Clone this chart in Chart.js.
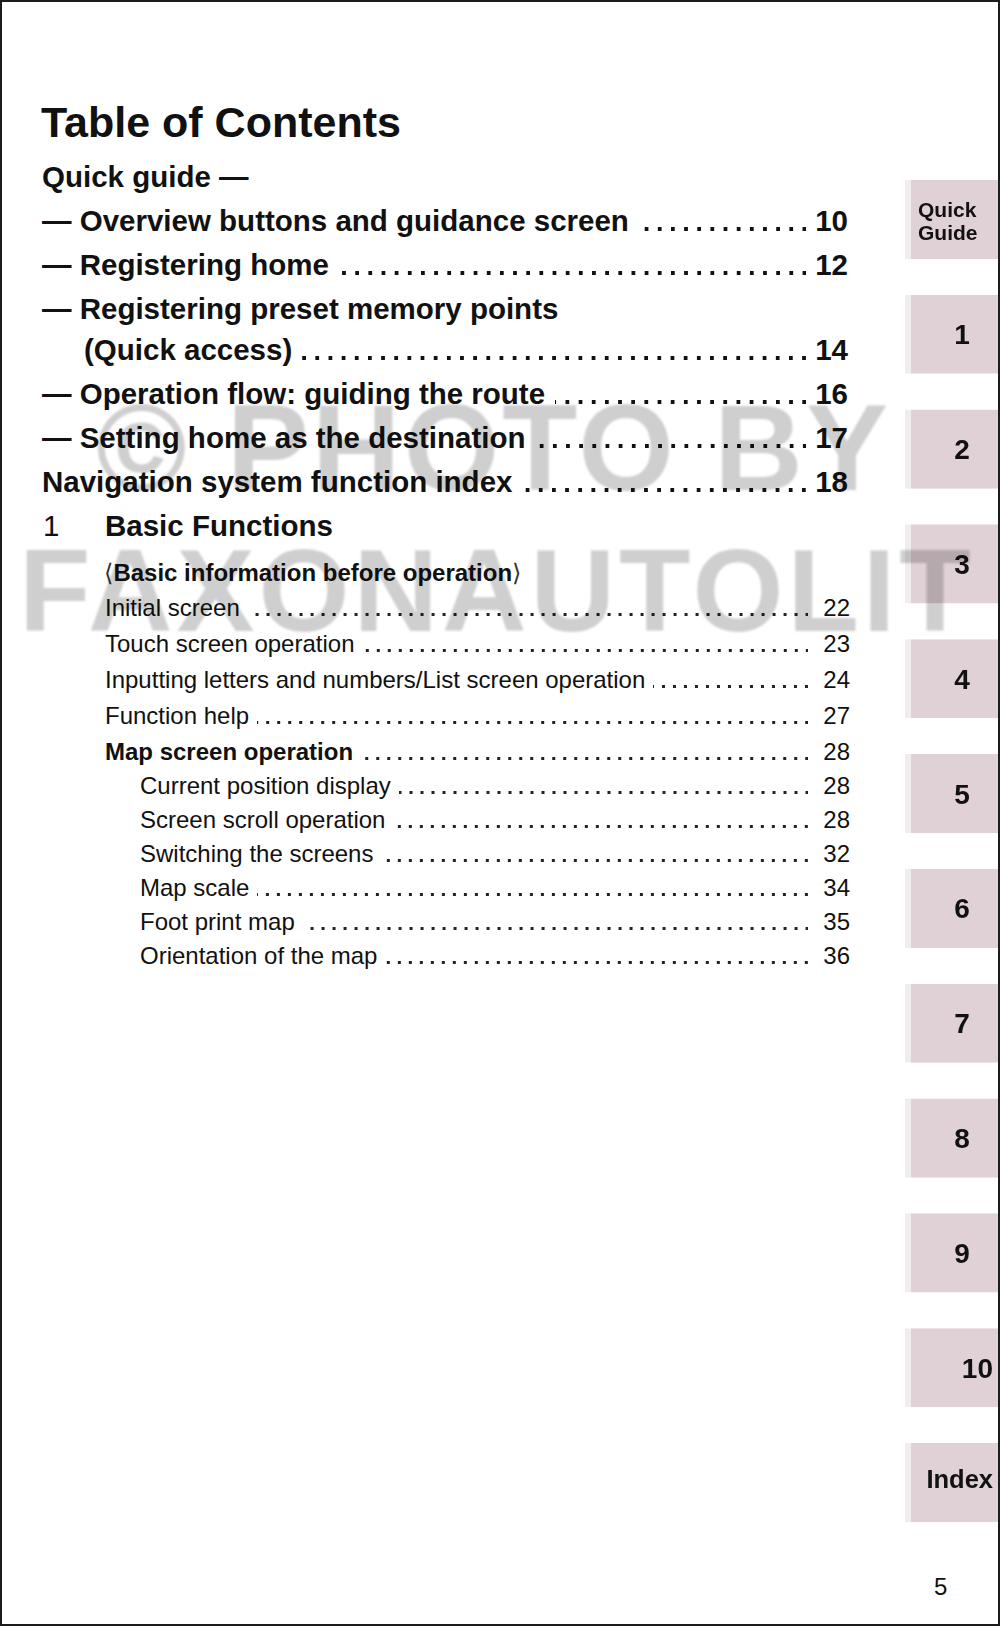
<!DOCTYPE html>
<html>
<head>
<meta charset="utf-8">
<script src="https://cdn.jsdelivr.net/npm/chart.js@4.4.1/dist/chart.umd.min.js"></script>
<style>
  html, body { margin: 0; padding: 0; background: #fff; }
  #page {
    position: relative; width: 1000px; height: 1626px; overflow: hidden;
    background: #fff; color: #111;
    font-family: "Liberation Sans", Arial, Helvetica, sans-serif;
  }
  #frame {
    position: absolute; left: 0; top: 0; width: 1000px; height: 1626px;
    box-sizing: border-box; border: 2px solid #1c1c1c; z-index: 10; pointer-events: none;
  }
  .row { position: absolute; display: flex; align-items: baseline; line-height: 1; white-space: nowrap; }
  .lead { flex: 1; align-self: stretch; }
  .num { text-align: right; }
  .br { font-family: "DejaVu Sans", sans-serif; font-weight: normal; color: #333; }
  #tabs { position: absolute; left: 905px; top: 162px; }
  .wm {
    position: absolute; line-height: 1; font-weight: bold; color: #cfcfcf;
    mix-blend-mode: multiply; filter: blur(1.2px); z-index: 8; pointer-events: none; white-space: nowrap;
  }
</style>
</head>
<body>
<div id="page">
  <div id="toc"></div>
  <canvas id="tabs" width="95" height="1378"></canvas>
  <div class="wm" style="left:96px; top:386px; font-size:123px; letter-spacing:3px;">© PHOTO BY</div>
  <div class="wm" style="left:19px; top:532px; font-size:117px; letter-spacing:4px;">FAXONAUTOLIT</div>
  <div id="frame"></div>
</div>
<script>
// === 1. DATA ===
const pageTitle = 'Table of Contents';
const tocLevels = ['part', 'big', 'big', 'big', 'cont', 'big', 'big', 'big', 'chap', 'group',
                   'item', 'item', 'item', 'item', 'itemb', 'sub', 'sub', 'sub', 'sub', 'sub', 'sub'];
const tocTitles = [
    'Quick guide —',
    '— Overview buttons and guidance screen',
    '— Registering home',
    '— Registering preset memory points',
    '(Quick access)',
    '— Operation flow: guiding the route',
    '— Setting home as the destination',
    'Navigation system function index',
    'Basic Functions',
    'Basic information before operation',
    'Initial screen',
    'Touch screen operation',
    'Inputting letters and numbers/List screen operation',
    'Function help',
    'Map screen operation',
    'Current position display',
    'Screen scroll operation',
    'Switching the screens',
    'Map scale',
    'Foot print map',
    'Orientation of the map'
];
const tocPages = [null, 10, 12, null, 14, 16, 17, 18, null, null,
                  22, 23, 24, 27, 28, 28, 28, 32, 34, 35, 36];
const chapterNumber = '1';
const tabLabels = [['Quick', 'Guide'], '1', '2', '3', '4', '5', '6', '7', '8', '9', '10', 'Index'];
const tabValues = [1, 1, 1, 1, 1, 1, 1, 1, 1, 1, 1, 1];
const folioNumber = '5';

// === 2. TABLE OF CONTENTS (text) ===
const levelStyle = {
    part:  { left: 42,  size: 29.5, bold: true,  gap: 50 },
    big:   { left: 42,  size: 29.5, bold: true,  gap: 44 },
    cont:  { left: 84,  size: 29.5, bold: true,  gap: 40.5 },
    chap:  { left: 105, size: 29.5, bold: true,  gap: 44 },
    group: { left: 104, size: 24,   bold: true,  gap: 45.5, after: -1 },
    item:  { left: 105, size: 24,   bold: false, gap: 36 },
    itemb: { left: 105, size: 24,   bold: true,  gap: 36 },
    sub:   { left: 140, size: 24,   bold: false, gap: 34 }
};
const ASC = 0.8465; // baseline offset for line-height 1 (Liberation Sans)
const toc = document.getElementById('toc');

const addText = (text, left, baseline, size, bold) => {
    const el = document.createElement('div');
    el.className = 'row';
    el.style.left = left + 'px';
    el.style.top = (baseline - ASC * size) + 'px';
    el.style.fontSize = size + 'px';
    el.style.fontWeight = bold ? 'bold' : 'normal';
    el.textContent = text;
    toc.appendChild(el);
    return el;
};

let baseline = 137;
addText(pageTitle, 41, baseline, 43, true);

let prevAfter = 0;
tocTitles.forEach((title, i) => {
    const st = levelStyle[tocLevels[i]];
    baseline += st.gap + prevAfter;
    prevAfter = st.after || 0;
    const big = st.size > 25;
    const right = big ? 848 : 850;

    const row = document.createElement('div');
    row.className = 'row';
    row.style.left = st.left + 'px';
    row.style.width = (right - st.left) + 'px';
    row.style.top = (baseline - ASC * st.size) + 'px';
    row.style.fontSize = st.size + 'px';

    const label = document.createElement('span');
    label.style.fontWeight = st.bold ? 'bold' : 'normal';
    if (tocLevels[i] === 'group') {
        label.innerHTML = '<span class="br">⟨</span>' + title + '<span class="br">⟩</span>';
    } else {
        label.textContent = title;
    }
    row.appendChild(label);

    if (tocPages[i] !== null) {
        const lead = document.createElement('span');
        lead.className = 'lead';
        if (big) {
            lead.style.margin = '0 9px 0 10px';
            lead.style.background = 'linear-gradient(to left, #111 4px, transparent 4px) right 0 bottom 4.5px / 13.17px 4px repeat-x';
        } else {
            lead.style.margin = '0 15px 0 8px';
            lead.style.background = 'linear-gradient(to left, #222 2.6px, transparent 2.6px) right 0 bottom 3.7px / 11px 2.6px repeat-x';
        }
        row.appendChild(lead);
        const num = document.createElement('span');
        num.className = 'num';
        num.style.fontWeight = big ? 'bold' : 'normal';
        num.textContent = tocPages[i];
        row.appendChild(num);
    }
    toc.appendChild(row);

    if (tocLevels[i] === 'chap') {
        addText(chapterNumber, 43, baseline, 29.5, false);
    }
});

addText(folioNumber, 934, 1595, 24, false);

// === 3. SECTION TABS (Chart.js) ===
const tabLabelPlugin = {
    id: 'tabLabels',
    afterDatasetsDraw(chart) {
        const ctx = chart.ctx;
        const meta = chart.getDatasetMeta(0);
        ctx.save();
        ctx.fillStyle = '#111';
        meta.data.forEach((bar, i) => {
            const label = chart.data.labels[i];
            const left = bar.base;
            const right = bar.x;
            const cy = bar.y;
            if (Array.isArray(label)) {
                ctx.font = 'bold 21px "Liberation Sans", Arial, sans-serif';
                ctx.textAlign = 'left';
                ctx.fillText(label[0], left + 13, cy - 2.5);
                ctx.fillText(label[1], left + 13, cy + 20.5);
            } else if (label.length > 1) {
                const size = label === 'Index' ? 25.5 : 28;
                ctx.font = `bold ${size}px "Liberation Sans", Arial, sans-serif`;
                ctx.textAlign = 'right';
                ctx.fillText(label, right - 7, cy + (label === 'Index' ? 5 : 0.716 * size / 2));
            } else {
                ctx.font = 'bold 28px "Liberation Sans", Arial, sans-serif';
                ctx.textAlign = 'center';
                ctx.fillText(label, left + (right - left) * 0.6, cy + 10);
            }
        });
        ctx.restore();
    }
};

new Chart(document.getElementById('tabs').getContext('2d'), {
    type: 'bar',
    data: {
        labels: tabLabels,
        datasets: [{
            data: tabValues,
            backgroundColor: '#dfd1d6',
            borderColor: '#f1edee',
            borderWidth: { left: 6, top: 0, right: 0, bottom: 0 },
            borderSkipped: false,
            categoryPercentage: 1,
            barPercentage: 0.69
        }]
    },
    options: {
        indexAxis: 'y',
        responsive: false,
        animation: false,
        devicePixelRatio: 1,
        layout: { padding: 0 },
        plugins: { legend: { display: false }, tooltip: { enabled: false } },
        scales: {
            x: { display: false, min: 0, max: 1 },
            y: { display: false }
        }
    },
    plugins: [tabLabelPlugin]
});
</script>
</body>
</html>
